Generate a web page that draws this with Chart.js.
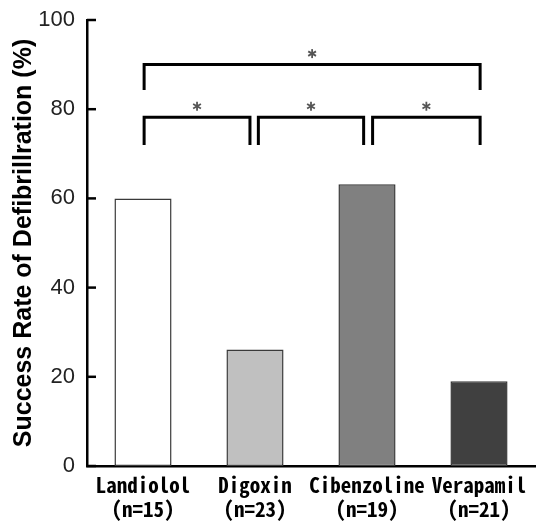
<!DOCTYPE html>
<html>
<head>
<meta charset="utf-8">
<script src="https://cdn.jsdelivr.net/npm/chart.js@4.4.1/dist/chart.umd.min.js"></script>
<style>
  html, body { margin: 0; padding: 0; background: #fff; }
  #wrap { width: 540px; height: 523px; }
</style>
</head>
<body>
<div id="wrap"><canvas id="myChart"></canvas></div>
<script>
// drug groups and success rates (%)
const drugs = ['Landiolol', 'Digoxin', 'Cibenzoline', 'Verapamil'];
const groupSizes = ['(n=15)', '(n=23)', '(n=19)', '(n=21)'];
const successRate = [60, 26.1, 63.2, 19.0];
const barColors = ['#ffffff', '#c0c0c0', '#808080', '#404040'];
const yTicks = [0, 20, 40, 60, 80, 100];

// significance brackets: [from, to] as category positions, bar level, leg bottom
const bracketFrom = [0.01, 1.03, 2.05, 0.01];
const bracketTo = [0.955, 1.97, 3.01, 3.01];
const bracketLevel = [78.2, 78.2, 78.2, 90];
const bracketLegEnd = [72, 72, 72, 84.3];

const labels = drugs.map((d, i) => [d, groupSizes[i]]);

// little six-armed asterisk
function drawStar(ctx, cx, cy, r) {
   ctx.save();
   ctx.strokeStyle = '#555';
   ctx.lineWidth = 1.8;
   [90, 30, 150].forEach(a => {
      const rad = a * Math.PI / 180;
      ctx.beginPath();
      ctx.moveTo(cx - r * Math.cos(rad), cy - r * Math.sin(rad));
      ctx.lineTo(cx + r * Math.cos(rad), cy + r * Math.sin(rad));
      ctx.stroke();
   });
   ctx.restore();
}

// inward tick marks on the y axis + brackets with stars
const extras = {
   id: 'extras',
   afterDraw(chart) {
      const ctx = chart.ctx;
      const xs = chart.scales.x;
      const ys = chart.scales.y;
      ctx.save();
      ctx.strokeStyle = '#000';
      ctx.lineWidth = 2.5;
      yTicks.forEach(v => {
         const py = ys.getPixelForValue(v);
         ctx.beginPath();
         ctx.moveTo(xs.left, py);
         ctx.lineTo(xs.left + 9, py);
         ctx.stroke();
      });

      ctx.lineWidth = 3;
      ctx.lineCap = 'butt';
      for (let i = 0; i < bracketFrom.length; i++) {
         const x1 = xs.getPixelForValue(bracketFrom[i]);
         const x2 = xs.getPixelForValue(bracketTo[i]);
         const yTop = ys.getPixelForValue(bracketLevel[i]);
         const yLeg = ys.getPixelForValue(bracketLegEnd[i]);
         ctx.beginPath();
         ctx.moveTo(x1, yLeg);
         ctx.lineTo(x1, yTop);
         ctx.lineTo(x2, yTop);
         ctx.lineTo(x2, yLeg);
         ctx.stroke();
         drawStar(ctx, (x1 + x2) / 2, yTop - 11, 4.5);
      }
      ctx.restore();
   }
};

new Chart(document.getElementById('myChart'), {
   type: 'bar',
   data: {
      labels: labels,
      datasets: [{
         data: successRate,
         backgroundColor: barColors,
         borderColor: '#3a3a3a',
         borderWidth: 1.5,
         borderSkipped: false,
         barPercentage: 0.51,
         categoryPercentage: 1
      }]
   },
   options: {
      responsive: true,
      maintainAspectRatio: false,
      animation: false,
      layout: { padding: { top: 20, right: 5, left: 0, bottom: 0 } },
      plugins: {
         legend: { display: false },
         tooltip: { enabled: false }
      },
      scales: {
         x: {
            grid: { display: false, drawTicks: false },
            border: { color: '#000', width: 2.5 },
            ticks: {
               color: '#000',
               padding: 7,
               maxRotation: 0,
               autoSkip: false,
               font: { family: '"Noto Sans Mono CJK JP", "Noto Sans CJK JP", monospace', size: 21, weight: 'bold', lineHeight: 1.15 }
            },
            afterFit(scale) { scale.height = 57; }
         },
         y: {
            min: 0,
            max: 100,
            afterBuildTicks(scale) { scale.ticks = yTicks.map(v => ({ value: v })); },
            grid: { display: false, drawTicks: false },
            border: { color: '#000', width: 2.5 },
            ticks: {
               color: '#222',
               padding: 12,
               font: { family: '"Liberation Sans", Arial, sans-serif', size: 22, lineHeight: 0.6 }
            },
            title: {
               display: true,
               text: 'Success Rate of Defibrillration (%)',
               color: '#000',
               padding: { top: 9, bottom: 0 },
               font: { family: '"Liberation Sans", Arial, sans-serif', size: 25, weight: 'bold' }
            },
            afterFit(scale) { scale.width = 87; }
         }
      }
   },
   plugins: [extras]
});
</script>
</body>
</html>
